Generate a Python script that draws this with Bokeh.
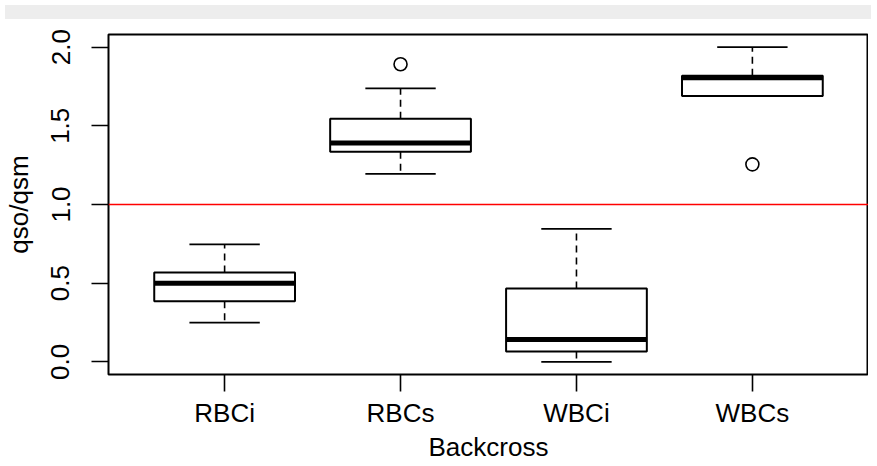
from bokeh.plotting import figure
from bokeh.models import Range1d, FixedTicker, Span, Div, ColumnDataSource, PrintfTickFormatter
from bokeh.layouts import column
from bokeh.embed import file_html
from bokeh.resources import INLINE

# ---- data ----
categories = ["RBCi", "RBCs", "WBCi", "WBCs"]
positions = [1, 2, 3, 4]
lower_whisker = [0.25, 1.195, 0.0, 1.69]
q1 = [0.385, 1.335, 0.066, 1.69]
median = [0.50, 1.39, 0.142, 1.805]
q3 = [0.568, 1.545, 0.467, 1.818]
upper_whisker = [0.747, 1.738, 0.845, 2.0]
outlier_pos = [2, 4]
outlier_val = [1.891, 1.255]
y_ticks = [0.0, 0.5, 1.0, 1.5, 2.0]
reference_level = 1.0

FONT = "Liberation Sans"
BOX_W = 0.8
STAPLE_W = 0.4

src = ColumnDataSource(dict(
    x=positions, lo=lower_whisker, q1=q1, med=median, q3=q3, hi=upper_whisker,
    bl=[x - BOX_W / 2 for x in positions], br=[x + BOX_W / 2 for x in positions],
    sl=[x - STAPLE_W / 2 for x in positions], sr=[x + STAPLE_W / 2 for x in positions],
))

p = figure(frame_width=760, frame_height=340, x_range=Range1d(0.34, 4.66), y_range=Range1d(-0.08, 2.08),
           output_backend="svg", toolbar_location=None,
           min_border_left=106, min_border_right=0, min_border_top=10, min_border_bottom=86)
p.background_fill_color = "white"
p.border_fill_color = "white"
p.xgrid.visible = False
p.ygrid.visible = False
p.outline_line_color = "black"
p.outline_line_width = 2
p.outline_line_alpha = 1

# whiskers (dashed)
p.segment(x0="x", x1="x", y0="q3", y1="hi", source=src, line_color="black", line_width=1.6, line_dash="7 5")
p.segment(x0="x", x1="x", y0="q1", y1="lo", source=src, line_color="black", line_width=1.6, line_dash="7 5")
# staples
p.segment(x0="sl", x1="sr", y0="hi", y1="hi", source=src, line_color="black", line_width=1.8)
p.segment(x0="sl", x1="sr", y0="lo", y1="lo", source=src, line_color="black", line_width=1.8)
# boxes
p.vbar(x="x", width=BOX_W, bottom="q1", top="q3", source=src, fill_color="white",
       line_color="black", line_width=2)
# medians
p.segment(x0="bl", x1="br", y0="med", y1="med", source=src, line_color="black", line_width=5,
          line_cap="butt")
# outliers
p.scatter(x=outlier_pos, y=outlier_val, size=13, marker="circle", fill_color=None,
          line_color="black", line_width=1.6)

# reference line
p.add_layout(Span(location=reference_level, dimension="width", line_color="red", line_width=1.6))

# axes
for ax in (p.xaxis[0], p.yaxis[0]):
    ax.axis_line_color = None
    ax.major_tick_in = 0
    ax.major_tick_out = 17
    ax.major_tick_line_color = "black"
    ax.major_tick_line_width = 1.6
    ax.minor_tick_line_color = None
    ax.major_label_text_font = FONT
    ax.major_label_text_font_size = "26px"
    ax.major_label_text_color = "black"
    ax.axis_label_text_font = FONT
    ax.axis_label_text_font_size = "26px"
    ax.axis_label_text_font_style = "normal"
    ax.axis_label_text_color = "black"

p.xaxis.ticker = FixedTicker(ticks=positions)
p.xaxis.major_label_overrides = {pos: cat for pos, cat in zip(positions, categories)}
p.xaxis.axis_label = "Backcross"
p.xaxis.major_label_standoff = 6
p.xaxis.axis_label_standoff = 1

p.yaxis.ticker = FixedTicker(ticks=y_ticks)
p.yaxis.formatter = PrintfTickFormatter(format="%.1f")
p.yaxis.major_label_orientation = "vertical"
p.yaxis.axis_label = "qso/qsm"
p.yaxis.major_label_standoff = 22
p.yaxis.axis_label_standoff = 15

band = Div(text="", width=866, height=14, styles={"background-color": "#ededed"})
layout = column(band, p, spacing=0)

open("out.html", "w").write(file_html(layout, INLINE))
